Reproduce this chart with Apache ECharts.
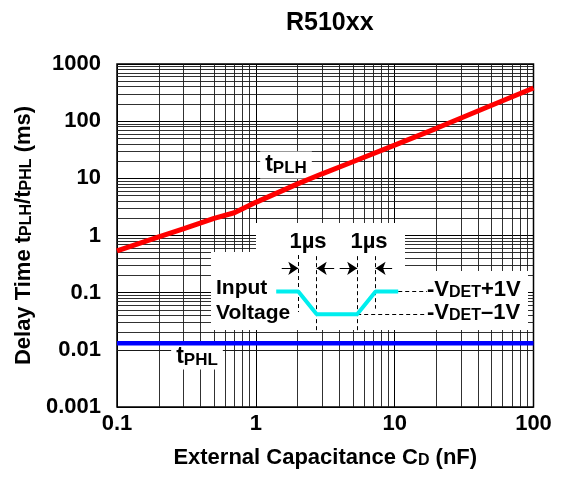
<!DOCTYPE html>
<html>
<head>
<meta charset="utf-8">
<script src="https://cdn.jsdelivr.net/npm/echarts@6/dist/echarts.min.js"></script>
<style>html,body{margin:0;padding:0;background:#fff;}#c{width:564px;height:485px;}</style>
</head>
<body>
<div id="c"></div>
<script>
// ---- data ----
const capX      = [0.1, 0.2, 0.3, 0.5, 0.7, 1, 2, 3, 5, 10, 20, 50, 100];
const tPLH      = [0.54, 0.95, 1.3, 2.0, 2.5, 3.8, 8.0, 12.0, 19.5, 38, 75, 190, 380];
const capX2     = [0.1, 1, 10, 100];
const tPHL      = [0.013, 0.013, 0.013, 0.013];
const xTickLabels = ['0.1', '1', '10', '100'];
const yTickLabels = ['0.001', '0.01', '0.1', '1', '10', '100', '1000'];
// inset waveform (time in us, voltage relative to -VDET)
const waveT = [-1.2, 0, 1, 3.2, 4.2, 5.43];
const waveV = [1, 1, -1, -1, 1, 1];
const guideT = [0, 1, 3.2, 4.2];
const guideTop = [4.2, 4.1, 4.1, 4.1];
const guideBot = [-0.8, -2.4, -2.4, -0.5];
const levelV = [1, -1];
const levelFrom = [5.43, 3.2];
const levelTo = [7.0, 7.0];
const arrowRow = 3.03;
const arrowTail = [-0.9, 1.95, 2.25, 5.1];
const arrowHead = [0, 1, 3.2, 4.2];

const FF = '"Liberation Sans", Arial, Helvetica, sans-serif';

// minor grid values
const xMinor = [], yMinor = [];
for (let e = -1; e < 2; e++) for (let k = 2; k <= 9; k++) xMinor.push(+(k * Math.pow(10, e)).toPrecision(3));
for (let e = -3; e < 3; e++) for (let k = 2; k <= 9; k++) yMinor.push(+(k * Math.pow(10, e)).toPrecision(3));

const chart = echarts.init(document.getElementById('c'), null, {renderer: 'canvas'});

const lbl = (v, arr, off) => arr[Math.round(Math.log10(v)) + off];

const option = {
  animation: false,
  backgroundColor: '#fff',
  title: {
    text: 'R510xx', left: 281, top: 6,
    textStyle: {fontFamily: FF, fontWeight: 'bold', fontSize: 25, color: '#000'}
  },
  grid: [
    {left: 117, right: 30.5, top: 64, bottom: 78, show: true, borderColor: '#000', borderWidth: 1.5, backgroundColor: '#fff', z: 0},
    {left: 270.7, top: 251.6, width: 165.6, height: 79.8, show: false}
  ],
  xAxis: [
    {
      type: 'log', logBase: 10, min: 0.1, max: 100, splitNumber: 3, gridIndex: 0,
      name: '{a|External Capacitance C}{b|D}{a| (nF)}',
      nameLocation: 'middle', nameGap: 40,
      nameTextStyle: {rich: {
        a: {fontFamily: FF, fontWeight: 'bold', fontSize: 22, color: '#000', verticalAlign: 'bottom'},
        b: {fontFamily: FF, fontWeight: 'bold', fontSize: 16, color: '#000', verticalAlign: 'bottom'}
      }},
      axisLine: {show: false}, axisTick: {show: false},
      axisLabel: {margin: 6, fontFamily: FF, fontWeight: 'bold', fontSize: 22, color: '#000',
        formatter: v => lbl(v, xTickLabels, 1)},
      splitLine: {show: true, lineStyle: {color: '#000', width: 1}}
    },
    {type: 'value', gridIndex: 1, min: -1.5, max: 7.5, show: false}
  ],
  yAxis: [
    {
      type: 'log', logBase: 10, min: 0.001, max: 1000, splitNumber: 6, gridIndex: 0,
      name: '{a|Delay Time t}{b|PLH}{a|/t}{b|PHL}{a| (ms)}',
      nameLocation: 'middle', nameGap: 78,
      nameTextStyle: {rich: {
        a: {fontFamily: FF, fontWeight: 'bold', fontSize: 22, color: '#000', verticalAlign: 'bottom'},
        b: {fontFamily: FF, fontWeight: 'bold', fontSize: 16, color: '#000', verticalAlign: 'bottom'}
      }},
      axisLine: {show: false}, axisTick: {show: false},
      axisLabel: {margin: 16, fontFamily: FF, fontWeight: 'bold', fontSize: 22, color: '#000',
        formatter: v => lbl(v, yTickLabels, 3)},
      splitLine: {show: true, lineStyle: {color: '#000', width: 1}}
    },
    {type: 'value', gridIndex: 1, min: -2.5, max: 4.5, show: false}
  ],
  series: [
    {
      type: 'line', xAxisIndex: 0, yAxisIndex: 0, z: 1, silent: true,
      data: [[capX2[0], tPHL[0]]], symbol: 'none', lineStyle: {opacity: 0},
      markLine: {
        z: 1, silent: true, symbol: ['none', 'none'], label: {show: false},
        lineStyle: {type: 'solid', color: '#1a1a1a', width: 0.9},
        emphasis: {disabled: true},
        data: xMinor.map(v => ({xAxis: v})).concat(yMinor.map(v => ({yAxis: v})))
      }
    },
    {
      name: 'tPLH', type: 'line', xAxisIndex: 0, yAxisIndex: 0, z: 5,
      data: capX.map((x, i) => [x, tPLH[i]]), symbol: 'none',
      lineStyle: {color: '#ff0000', width: 5}
    },
    {
      name: 'tPHL', type: 'line', xAxisIndex: 0, yAxisIndex: 0, z: 5,
      data: capX2.map((x, i) => [x, tPHL[i]]), symbol: 'none',
      lineStyle: {color: '#0000ff', width: 4.5}
    },
    {
      type: 'lines', coordinateSystem: 'cartesian2d', xAxisIndex: 1, yAxisIndex: 1, z: 20, silent: true,
      symbol: ['none', 'none'],
      lineStyle: {color: '#000', width: 1, type: [4, 3], opacity: 1},
      data: guideT.map((t, i) => ({coords: [[t, guideTop[i]], [t, guideBot[i]]]}))
        .concat(levelV.map((v, i) => ({coords: [[levelFrom[i], v], [levelTo[i], v]]})))
    },
    {
      type: 'lines', coordinateSystem: 'cartesian2d', xAxisIndex: 1, yAxisIndex: 1, z: 21, silent: true,
      symbol: ['none', 'arrow'], symbolSize: [7, 10],
      lineStyle: {color: '#000', width: 1, type: 'solid', opacity: 1},
      data: arrowTail.map((t, i) => ({coords: [[t, arrowRow], [arrowHead[i], arrowRow]]}))
    },
    {
      type: 'line', xAxisIndex: 1, yAxisIndex: 1, z: 22, silent: true,
      data: waveT.map((t, i) => [t, waveV[i]]), symbol: 'none',
      lineStyle: {color: '#00eeee', width: 4}
    }
  ],
  graphic: [
    {type: 'rect', z: 10, silent: true, shape: {x: 256, y: 223, width: 149, height: 107}, style: {fill: '#fff'}},
    {type: 'rect', z: 10, silent: true, shape: {x: 211, y: 252, width: 46, height: 78}, style: {fill: '#fff'}},
    {type: 'rect', z: 10, silent: true, shape: {x: 404, y: 271, width: 124, height: 59}, style: {fill: '#fff'}},
    {type: 'text', z: 3, x: 286, y: 165, silent: true, style: {
      text: '{a|t}{b|PLH}', align: 'center', verticalAlign: 'middle', backgroundColor: '#fff', padding: [2, 5],
      rich: {a: {fontFamily: FF, fontWeight: 'bold', fontSize: 23, fill: '#000', verticalAlign: 'bottom'},
             b: {fontFamily: FF, fontWeight: 'bold', fontSize: 17, fill: '#000', verticalAlign: 'bottom'}}
    }},
    {type: 'text', z: 3, x: 197, y: 357, silent: true, style: {
      text: '{a|t}{b|PHL}', align: 'center', verticalAlign: 'middle', backgroundColor: '#fff', padding: [1, 5],
      rich: {a: {fontFamily: FF, fontWeight: 'bold', fontSize: 23, fill: '#000', verticalAlign: 'bottom'},
             b: {fontFamily: FF, fontWeight: 'bold', fontSize: 17, fill: '#000', verticalAlign: 'bottom'}}
    }},
    {type: 'text', z: 30, x: 308, y: 242, silent: true, style: {text: '1µs', align: 'center', verticalAlign: 'middle', font: 'bold 22px ' + FF, fill: '#000'}},
    {type: 'text', z: 30, x: 369, y: 242, silent: true, style: {text: '1µs', align: 'center', verticalAlign: 'middle', font: 'bold 22px ' + FF, fill: '#000'}},
    {type: 'text', z: 30, x: 216, y: 288, silent: true, style: {text: 'Input', align: 'left', verticalAlign: 'middle', font: 'bold 21px ' + FF, fill: '#000'}},
    {type: 'text', z: 30, x: 216, y: 313, silent: true, style: {text: 'Voltage', align: 'left', verticalAlign: 'middle', font: 'bold 21px ' + FF, fill: '#000'}},
    {type: 'text', z: 30, x: 427, y: 290, silent: true, style: {
      text: '{a|-V}{b|DET}{a|+1V}', align: 'left', verticalAlign: 'middle',
      rich: {a: {fontFamily: FF, fontWeight: 'bold', fontSize: 22, fill: '#000', verticalAlign: 'bottom'},
             b: {fontFamily: FF, fontWeight: 'bold', fontSize: 16, fill: '#000', verticalAlign: 'bottom'}}
    }},
    {type: 'text', z: 30, x: 427, y: 313, silent: true, style: {
      text: '{a|-V}{b|DET}{a|–1V}', align: 'left', verticalAlign: 'middle',
      rich: {a: {fontFamily: FF, fontWeight: 'bold', fontSize: 22, fill: '#000', verticalAlign: 'bottom'},
             b: {fontFamily: FF, fontWeight: 'bold', fontSize: 16, fill: '#000', verticalAlign: 'bottom'}}
    }}
  ]
};
chart.setOption(option);
</script>
</body>
</html>
